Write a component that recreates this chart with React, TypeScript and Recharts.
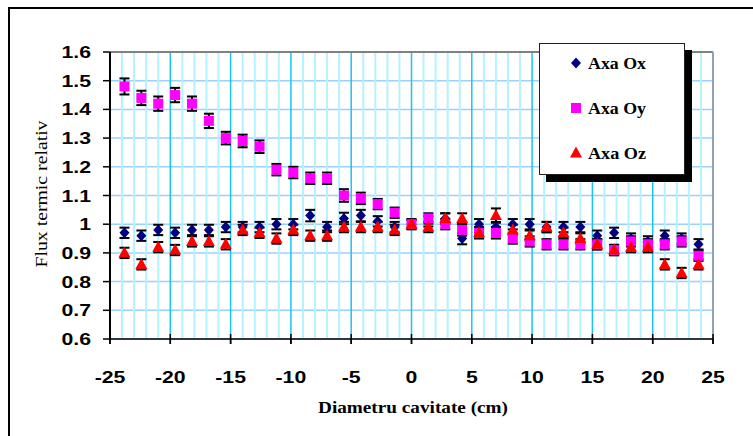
import React from 'react';
import {
  ScatterChart,
  Scatter,
  XAxis,
  YAxis,
  CartesianGrid,
  ErrorBar,
  ReferenceLine,
  Legend,
} from 'recharts';

// positions along the cavity diameter (cm)
const positions = [
  -23.8, -22.4, -21, -19.6, -18.2, -16.8, -15.4, -14, -12.6, -11.2, -9.8, -8.4, -7, -5.6, -4.2, -2.8, -1.4,
  0, 1.4, 2.8, 4.2, 5.6, 7, 8.4, 9.8, 11.2, 12.6, 14, 15.4, 16.8, 18.2, 19.6, 21, 22.4, 23.8,
];

const axaOx = [
  0.97, 0.96, 0.98, 0.97, 0.98, 0.98, 0.99, 0.99, 0.99, 1.0, 1.0, 1.03, 0.99, 1.02, 1.03, 1.01, 0.99,
  1.0, 1.01, 1.02, 0.95, 1.0, 0.99, 1.0, 1.0, 0.99, 0.99, 0.99, 0.96, 0.97, 0.95, 0.94, 0.96, 0.95, 0.93,
];
const axaOy = [
  1.48, 1.44, 1.42, 1.45, 1.42, 1.36, 1.3, 1.29, 1.27, 1.19, 1.18, 1.16, 1.16, 1.1, 1.09, 1.07, 1.04,
  1.0, 1.02, 1.0, 0.98, 0.97, 0.97, 0.95, 0.94, 0.93, 0.93, 0.93, 0.93, 0.91, 0.94, 0.93, 0.93, 0.94, 0.89,
];
const axaOz = [
  0.9, 0.86, 0.92, 0.91, 0.94, 0.94, 0.93, 0.98, 0.97, 0.95, 0.98, 0.96, 0.96, 0.99, 0.99, 0.99, 0.98,
  1.0, 0.99, 1.02, 1.02, 0.97, 1.03, 0.98, 0.96, 0.99, 0.97, 0.95, 0.93, 0.91, 0.92, 0.92, 0.86, 0.83, 0.86,
];

const errOx = [
  0.018, 0.018, 0.018, 0.018, 0.018, 0.018, 0.018, 0.018, 0.018, 0.018, 0.018, 0.02, 0.018, 0.02, 0.02, 0.018, 0.018,
  0.018, 0.018, 0.018, 0.02, 0.018, 0.018, 0.018, 0.018, 0.018, 0.018, 0.018, 0.018, 0.018, 0.018, 0.018, 0.018, 0.018, 0.018,
];
const errOy = [
  0.028, 0.025, 0.025, 0.025, 0.025, 0.025, 0.022, 0.022, 0.022, 0.02, 0.02, 0.02, 0.02, 0.022, 0.02, 0.018, 0.018,
  0.015, 0.018, 0.018, 0.02, 0.02, 0.02, 0.018, 0.018, 0.018, 0.018, 0.018, 0.018, 0.018, 0.018, 0.018, 0.018, 0.018, 0.018,
];
const errOz = [
  0.018, 0.018, 0.018, 0.018, 0.018, 0.018, 0.018, 0.018, 0.018, 0.018, 0.018, 0.018, 0.018, 0.018, 0.018, 0.018, 0.018,
  0.015, 0.018, 0.018, 0.018, 0.018, 0.025, 0.018, 0.018, 0.018, 0.018, 0.018, 0.018, 0.018, 0.018, 0.018, 0.018, 0.018, 0.018,
];

const xTicks = [-25, -20, -15, -10, -5, 0, 5, 10, 15, 20, 25];
const yTicks = [0.6, 0.7, 0.8, 0.9, 1, 1.1, 1.2, 1.3, 1.4, 1.5, 1.6];
const majorGridX = [-20, -15, -10, -5, 0, 5, 10, 15, 20];
const minorGridX = Array.from({ length: 49 }, (_, i) => i - 24).filter((v) => v % 5 !== 0);

const toPoints = (values: number[], errors: number[]) =>
  positions.map((x, i) => ({ x, y: values[i], err: errors[i] }));

const dataOx = toPoints(axaOx, errOx);
const dataOy = toPoints(axaOy, errOy);
const dataOz = toPoints(axaOz, errOz);

const NAVY = '#000080';
const MAGENTA = '#FF00FF';
const RED = '#FF0000';

const Diamond = ({ cx, cy }: any) => (
  <polygon points={`${cx},${cy - 5.5} ${cx + 5},${cy} ${cx},${cy + 5.5} ${cx - 5},${cy}`} fill={NAVY} />
);
const Square = ({ cx, cy }: any) => <rect x={cx - 5} y={cy - 5} width={10} height={10} fill={MAGENTA} />;
const Triangle = ({ cx, cy }: any) => (
  <polygon points={`${cx},${cy - 6.5} ${cx + 6},${cy + 4.5} ${cx - 6},${cy + 4.5}`} fill={RED} />
);

const tickFont = { fontFamily: '"Liberation Sans", Arial, sans-serif', fontWeight: 700, fontSize: 17 };

const XTick = ({ x, y, payload }: any) => (
  <g transform={`translate(${x},${y})`}>
    <line x1={0} x2={0} y1={-10} y2={0} stroke="#000" strokeWidth={1.5} />
    <text transform="scale(1.25,1)" textAnchor="middle" y={39} fill="#000" style={tickFont}>
      {payload.value}
    </text>
  </g>
);

const YTick = ({ x, y, payload }: any) => (
  <g transform={`translate(${x},${y})`}>
    <text transform="scale(1.25,1)" textAnchor="end" y={6} fill="#000" style={tickFont}>
      {payload.value === 1 ? '1' : payload.value.toFixed(1)}
    </text>
  </g>
);

const serif = '"Liberation Serif", "Times New Roman", serif';

const LegendBox = () => (
  <div
    style={{
      width: 146,
      height: 132,
      boxSizing: 'border-box',
      border: '1.5px solid #222',
      background: '#fff',
      boxShadow: '7px 7px 0 #000',
    }}
  >
    <svg width={143} height={129} style={{ display: 'block' }}>
      <Diamond cx={36} cy={19} />
      <Square cx={36} cy={64} />
      <Triangle cx={36} cy={109} />
      {['Axa Ox', 'Axa Oy', 'Axa Oz'].map((label, i) => (
        <text
          key={label}
          x={48}
          y={25 + i * 45}
          textLength={58}
          lengthAdjust="spacingAndGlyphs"
          style={{ fontFamily: serif, fontWeight: 700, fontSize: 16 }}
        >
          {label}
        </text>
      ))}
    </svg>
  </div>
);

export default function App() {
  return (
    <div style={{ position: 'absolute', left: 0, top: 0, width: 753, height: 436, background: '#fff' }}>
      <div
        style={{
          position: 'absolute',
          left: 8,
          top: 7,
          width: 745,
          height: 429,
          borderLeft: '2px solid #000',
          borderTop: '2px solid #000',
        }}
      />
      <ScatterChart width={753} height={436} margin={{ top: 52, right: 40, bottom: 0, left: 0 }}>
        {minorGridX.map((v) => (
          <ReferenceLine key={`m${v}`} x={v} stroke="#b4f2ff" strokeWidth={2} />
        ))}
        <CartesianGrid
          horizontalValues={yTicks}
          stroke="#9cd0ff"
          strokeWidth={1.5}
          vertical={false}
        />
        <CartesianGrid horizontal={false} verticalValues={majorGridX} stroke="#18c4f0" strokeWidth={1.5} />
        <ReferenceLine y={1.6} stroke="#808080" strokeWidth={2} />
        <ReferenceLine x={25} stroke="#8fa3b8" strokeWidth={2} />
        <XAxis
          type="number"
          dataKey="x"
          domain={[-25, 25]}
          ticks={xTicks}
          height={97}
          tickSize={5}
          tickMargin={0}
          tickLine={{ stroke: '#000', strokeWidth: 1.5 }}
          axisLine={{ stroke: '#000', strokeWidth: 1.5 }}
          tick={<XTick />}
          allowDataOverflow
          label={{
            content: () => (
              <text
                x={413}
                y={413}
                textAnchor="middle"
                textLength={190}
                lengthAdjust="spacingAndGlyphs"
                style={{ fontFamily: serif, fontWeight: 700, fontSize: 17 }}
              >
                Diametru cavitate (cm)
              </text>
            ),
          }}
        />
        <YAxis
          type="number"
          dataKey="y"
          domain={[0.6, 1.6]}
          ticks={yTicks}
          width={110}
          tickSize={7}
          tickMargin={12}
          tickLine={{ stroke: '#000', strokeWidth: 1.5 }}
          axisLine={{ stroke: '#000', strokeWidth: 2 }}
          tick={<YTick />}
          allowDataOverflow
          label={{
            content: () => (
              <text
                x={47}
                y={194}
                transform="rotate(-90 47 194)"
                textAnchor="middle"
                textLength={147}
                lengthAdjust="spacingAndGlyphs"
                style={{ fontFamily: serif, fontSize: 16 }}
              >
                Flux termic relativ
              </text>
            ),
          }}
        />
        <Legend
          layout="vertical"
          align="center"
          verticalAlign="middle"
          wrapperStyle={{ left: 539, top: 43, width: 146, height: 132 }}
          content={() => <LegendBox />}
        />
        <Scatter name="Axa Ox" data={dataOx} shape={<Diamond />} fill={NAVY} isAnimationActive={false}>
          <ErrorBar dataKey="err" direction="y" width={5} stroke="#000" strokeWidth={2} />
        </Scatter>
        <Scatter name="Axa Oy" data={dataOy} shape={<Square />} fill={MAGENTA} isAnimationActive={false}>
          <ErrorBar dataKey="err" direction="y" width={5} stroke="#000" strokeWidth={2} />
        </Scatter>
        <Scatter name="Axa Oz" data={dataOz} shape={<Triangle />} fill={RED} isAnimationActive={false}>
          <ErrorBar dataKey="err" direction="y" width={5} stroke="#000" strokeWidth={2} />
        </Scatter>
      </ScatterChart>
    </div>
  );
}
